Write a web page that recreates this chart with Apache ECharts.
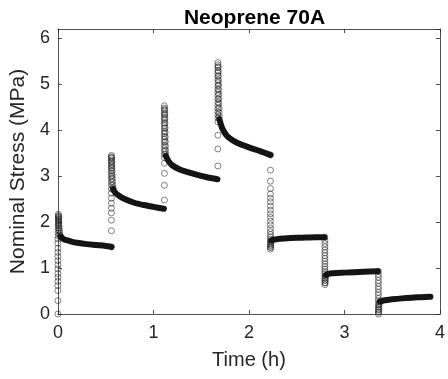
<!DOCTYPE html>
<html><head><meta charset="utf-8">
<script src="https://cdn.jsdelivr.net/npm/echarts@6/dist/echarts.min.js"></script>
<style>html,body{margin:0;padding:0;background:#fff}#c{width:448px;height:379px}</style>
</head><body><div id="c"></div>
<script>
// Loading / unloading ramps (sparse circles + dense stacks), [time h, stress MPa]
const ramp1 = [[0,0],[0,0.29],[0,0.51],[0,0.62],[0,0.71],[0,0.8],[0,0.88],[0,0.98],[0,1.07],[0,1.16],[0,1.25],[0,1.34],[0,1.43],[0,1.54],[0,1.63],[0.003,1.7],[0.003,1.76],[0.004,1.82],[0.004,1.87],[0.004,1.92],[0.005,1.96],[0.005,2.0],[0.005,2.04],[0.005,2.08],[0.005,2.11],[0.005,2.14],[0.005,2.17]];
const drop1 = [[0.008,2.12],[0.008,2.07],[0.009,2.02],[0.01,1.97],[0.011,1.92],[0.013,1.87],[0.015,1.82],[0.018,1.77],[0.022,1.72],[0.03,1.68]];
const hold1 = [[0.03,1.68],[0.06,1.63],[0.1,1.6],[0.15,1.57],[0.2,1.55],[0.3,1.52],[0.4,1.5],[0.5,1.48],[0.56,1.46]];
const ramp2 = [[0.56,1.46],[0.56,1.81],[0.56,2.04],[0.56,2.2],[0.56,2.3],[0.56,2.41],[0.56,2.52],[0.56,2.63],[0.56,2.72],[0.56,2.8],[0.56,2.87],[0.56,2.94],[0.56,3.0],[0.56,3.06],[0.56,3.12],[0.56,3.17],[0.56,3.22],[0.56,3.27],[0.56,3.31],[0.56,3.35],[0.56,3.39],[0.56,3.42],[0.56,3.45]];
const drop2 = [[0.563,3.4],[0.564,3.32],[0.565,3.25],[0.566,3.18],[0.567,3.1],[0.568,3.02],[0.57,2.95],[0.572,2.88],[0.575,2.8],[0.578,2.74]];
const hold2 = [[0.578,2.72],[0.6,2.64],[0.64,2.57],[0.7,2.5],[0.8,2.42],[0.9,2.37],[1.0,2.33],[1.11,2.29]];
const ramp3 = [[1.115,2.48],[1.115,2.8],[1.115,3.06],[1.115,3.28],[1.115,3.4],[1.115,3.47],[1.115,3.54],[1.115,3.6],[1.115,3.67],[1.115,3.74],[1.115,3.8],[1.115,3.86],[1.115,3.92],[1.115,3.98],[1.115,4.04],[1.115,4.1],[1.115,4.16],[1.115,4.22],[1.115,4.28],[1.115,4.33],[1.115,4.38],[1.115,4.43],[1.115,4.48],[1.115,4.53]];
const drop3 = [[1.118,4.45],[1.119,4.35],[1.12,4.25],[1.121,4.15],[1.122,4.05],[1.123,3.95],[1.124,3.85],[1.125,3.75],[1.126,3.65],[1.127,3.56],[1.13,3.48]];
const hold3 = [[1.13,3.44],[1.16,3.32],[1.2,3.23],[1.27,3.15],[1.35,3.09],[1.45,3.03],[1.55,2.98],[1.67,2.93]];
const ramp4 = [[1.675,3.22],[1.675,3.59],[1.675,3.89],[1.675,4.18],[1.675,4.26],[1.675,4.33],[1.675,4.4],[1.675,4.47],[1.675,4.54],[1.675,4.61],[1.675,4.68],[1.675,4.75],[1.675,4.82],[1.675,4.89],[1.675,4.96],[1.675,5.03],[1.675,5.1],[1.675,5.17],[1.675,5.24],[1.675,5.3],[1.675,5.36],[1.675,5.42],[1.675,5.47]];
const drop4 = [[1.678,5.38],[1.679,5.28],[1.68,5.18],[1.681,5.08],[1.682,4.98],[1.683,4.88],[1.684,4.78],[1.685,4.68],[1.686,4.58],[1.687,4.48],[1.688,4.38],[1.69,4.3]];
const hold4 = [[1.69,4.24],[1.72,4.04],[1.76,3.9],[1.8,3.82],[1.87,3.73],[1.94,3.67],[2.02,3.61],[2.11,3.55],[2.225,3.46]];
const ramp5 = [[2.225,3.46],[2.225,3.13],[2.225,2.89],[2.225,2.73],[2.225,2.61],[2.225,2.52],[2.225,2.44],[2.225,2.35],[2.225,2.26],[2.225,2.18],[2.225,2.1],[2.225,2.02],[2.225,1.94],[2.225,1.86],[2.225,1.79],[2.225,1.73],[2.225,1.68],[2.225,1.63],[2.225,1.58],[2.225,1.53],[2.225,1.49],[2.225,1.45],[2.225,1.41]];
const rise5 = [[2.228,1.45],[2.229,1.5],[2.23,1.55],[2.232,1.59]];
const hold5 = [[2.235,1.6],[2.26,1.62],[2.3,1.63],[2.4,1.65],[2.55,1.66],[2.7,1.67],[2.79,1.67]];
const ramp6 = [[2.795,1.67],[2.795,1.6],[2.795,1.53],[2.795,1.46],[2.795,1.39],[2.795,1.33],[2.795,1.27],[2.795,1.21],[2.795,1.15],[2.795,1.09],[2.795,1.03],[2.795,0.98],[2.795,0.93],[2.795,0.88],[2.795,0.83],[2.795,0.78],[2.795,0.73],[2.795,0.68],[2.795,0.64]];
const rise6 = [[2.798,0.68],[2.799,0.73],[2.8,0.78],[2.802,0.82]];
const hold6 = [[2.805,0.85],[2.85,0.88],[3.0,0.9],[3.2,0.92],[3.35,0.93]];
const ramp7 = [[3.355,0.93],[3.355,0.86],[3.355,0.8],[3.355,0.73],[3.355,0.67],[3.355,0.6],[3.355,0.54],[3.355,0.47],[3.355,0.41],[3.355,0.34],[3.355,0.28],[3.355,0.21],[3.355,0.15],[3.355,0.09],[3.355,0.04],[3.355,0.0]];
const rise7 = [[3.358,0.05],[3.359,0.1],[3.36,0.15],[3.362,0.2],[3.365,0.24]];
const hold7 = [[3.37,0.27],[3.42,0.3],[3.5,0.32],[3.6,0.34],[3.7,0.355],[3.8,0.365],[3.9,0.375]];

const xTicks = [0, 1, 2, 3, 4];
const yTicks = [0, 1, 2, 3, 4, 5, 6];

const circles = [].concat(ramp1, drop1, ramp2, drop2, ramp3, drop3, ramp4, drop4, ramp5, rise5, ramp6, rise6, ramp7, rise7);
const holds = [hold1, hold2, hold3, hold4, hold5, hold6, hold7];

const ink = '#262626';
const font = 'Liberation Sans, Arial, Helvetica, sans-serif';
const axCommon = {
  axisLine: { show: true, onZero: false, lineStyle: { color: ink, width: 0.8 } },
  axisTick: { show: true, inside: true, length: 4, lineStyle: { color: ink, width: 0.8 } },
  splitLine: { show: false }
};
const chart = echarts.init(document.getElementById('c'), null, { renderer: 'canvas' });
const series = [{
  type: 'scatter', xAxisIndex: 0, yAxisIndex: 0, data: circles, symbol: 'circle', symbolSize: 6,
  itemStyle: { color: 'rgba(0,0,0,0)', borderColor: '#222', borderWidth: 0.7 }, silent: true, z: 3
}];
holds.forEach(h => series.push({
  type: 'line', xAxisIndex: 0, yAxisIndex: 0, data: h, showSymbol: false, smooth: 0.3,
  lineStyle: { color: '#141414', width: 6, cap: 'round', join: 'round' }, silent: true, z: 4
}));
chart.setOption({
  animation: false,
  title: { text: 'Neoprene 70A', left: 249.5, textAlign: 'center', top: 3,
    textStyle: { fontFamily: font, fontWeight: 'bold', fontSize: 21, color: '#000' } },
  grid: { left: 56, right: 5, top: 29, bottom: 65, containLabel: false },
  xAxis: [
    Object.assign({ type: 'value', min: 0, max: 4, interval: 1, position: 'bottom',
      name: 'Time (h)', nameLocation: 'middle', nameGap: 36,
      nameTextStyle: { fontFamily: font, fontSize: 20, color: ink },
      axisLabel: { fontFamily: font, fontSize: 18, color: ink, margin: 10,
        formatter: v => xTicks.includes(v) ? String(v) : '' } }, axCommon),
    Object.assign({ type: 'value', min: 0, max: 4, interval: 1, position: 'top',
      axisLabel: { show: false } }, axCommon)
  ],
  yAxis: [
    Object.assign({ type: 'value', min: 0, max: 6.2, interval: 1, position: 'left',
      name: 'Nominal Stress (MPa)', nameLocation: 'middle', nameGap: 23,
      nameTextStyle: { fontFamily: font, fontSize: 21, color: ink },
      axisLabel: { fontFamily: font, fontSize: 18, color: ink, margin: 8, showMaxLabel: false,
        formatter: v => yTicks.includes(v) ? String(v) : '' } }, axCommon),
    Object.assign({ type: 'value', min: 0, max: 6.2, interval: 1, position: 'right',
      axisLabel: { show: false } }, axCommon)
  ],
  series: series
});
</script></body></html>
